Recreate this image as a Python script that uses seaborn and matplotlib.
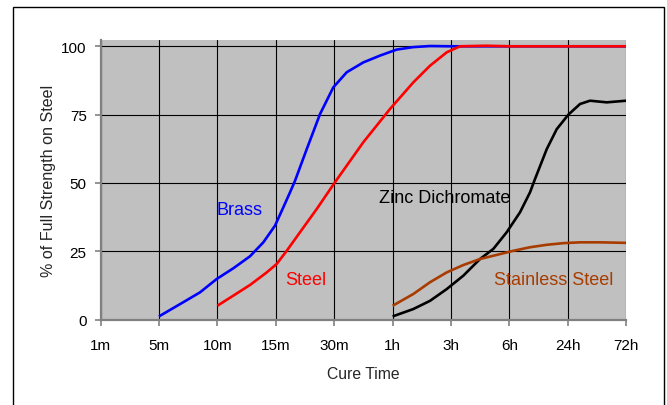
import matplotlib
matplotlib.use("Agg")
import matplotlib.pyplot as plt
import matplotlib.patches as mpatches
import seaborn as sns
import pandas as pd

# Category axis (equally spaced cure-time ticks)
tick_labels = ["1m", "5m", "10m", "15m", "30m", "1h", "3h", "6h", "24h", "72h"]

# Readings: position along the category axis (0 = 1m ... 9 = 72h) and % strength
brass_x = [1.0, 1.417, 1.703, 1.989, 2.273, 2.559, 2.787, 2.987, 3.129, 3.244, 3.329, 3.53, 3.757,
           3.985, 4.214, 4.498, 4.784, 5.07, 5.354, 5.64, 6.0, 7.0, 8.0, 9.0]
brass_y = [1.2, 6.4, 10.0, 14.9, 18.8, 23.2, 28.3, 34.4, 41.1, 46.6, 50.8, 62.4, 75.2,
           85.0, 90.5, 94.1, 96.6, 98.8, 99.7, 100.1, 100.0, 100.0, 100.0, 100.0]

steel_x = [2.0, 2.273, 2.559, 2.845, 3.016, 3.187, 3.415, 3.701, 4.014, 4.498, 4.956, 5.354,
           5.64, 5.926, 6.154, 6.6, 7.0, 8.0, 9.0]
steel_y = [5.1, 8.8, 12.7, 17.3, 20.4, 25.2, 32.0, 40.5, 50.3, 64.9, 77.1, 86.8,
           92.9, 97.8, 100.0, 100.2, 100.0, 100.0, 100.0]

zinc_x = [5.0, 5.354, 5.64, 5.926, 6.21, 6.496, 6.724, 6.953, 7.181, 7.352, 7.438, 7.638, 7.809,
          8.008, 8.208, 8.379, 8.665, 9.0]
zinc_y = [1.2, 3.9, 6.9, 11.2, 16.1, 22.2, 25.9, 32.0, 39.3, 46.6, 51.5, 62.4, 69.7,
          75.0, 78.9, 80.1, 79.5, 80.1]

stainless_x = [5.0, 5.354, 5.64, 5.926, 6.21, 6.496, 6.782, 7.066, 7.352, 7.638, 7.922, 8.208, 8.551, 9.0]
stainless_y = [5.1, 9.4, 13.7, 17.3, 20.0, 22.2, 23.7, 25.2, 26.5, 27.4, 28.0, 28.3, 28.3, 28.1]

series_names = ["Brass", "Steel", "Zinc Dichromate", "Stainless Steel"]
series_colors = ["#0000FF", "#FF0000", "#000000", "#A83C00"]

frames = []
for name, xs, ys in zip(series_names,
                        [brass_x, steel_x, zinc_x, stainless_x],
                        [brass_y, steel_y, zinc_y, stainless_y]):
    frames.append(pd.DataFrame({"pos": xs, "val": ys, "series": name}))
df = pd.concat(frames, ignore_index=True)

sns.set_style("white")
plt.rcParams["font.family"] = ["Liberation Sans", "DejaVu Sans"]

fig = plt.figure(figsize=(6.67, 4.06), dpi=100)
fig.patch.set_facecolor("white")
ax = fig.add_axes([0.1507, 0.2101, 0.939 - 0.1507, 0.899 - 0.2101])
ax.set_facecolor("#C0C0C0")

sns.lineplot(data=df, x="pos", y="val", hue="series", hue_order=series_names,
             palette=dict(zip(series_names, series_colors)), sort=False,
             estimator=None, linewidth=1.9, legend=False, ax=ax, zorder=3,
             solid_joinstyle="round", solid_capstyle="butt")

ax.set_xlim(0, 9)
ax.set_ylim(0, 102.3)
ax.set_xticks(range(len(tick_labels)))
ax.set_xticklabels(tick_labels)
ax.set_yticks([0, 25, 50, 75, 100])

ax.grid(True, color="black", linewidth=0.8, zorder=1)
ax.set_axisbelow(True)

for s in ["top", "right"]:
    ax.spines[s].set_visible(False)
for s in ["left", "bottom"]:
    ax.spines[s].set_color("#808080")
    ax.spines[s].set_linewidth(1.6)
    ax.spines[s].set_zorder(4)

ax.tick_params(axis="both", which="major", direction="out", length=4, width=1.2,
               color="#808080", labelsize=11, labelcolor="black",
               bottom=True, left=True)
ax.tick_params(axis="x", pad=9)
ax.tick_params(axis="y", pad=6)

ax.set_xlabel("Cure Time", fontsize=11.3, labelpad=10)
ax.set_ylabel("% of Full Strength on Steel", fontsize=11.6, labelpad=4)

# Series labels
label_pos = [(1.99, 38.7), (3.16, 13.0), (4.77, 42.9), (6.74, 13.0)]
for name, color, (tx, ty) in zip(series_names, series_colors, label_pos):
    ax.text(tx, ty, name, color=color, fontsize=13, ha="left", va="baseline", zorder=5)

# Outer figure frame
frame = mpatches.Rectangle((13.5 / 667, -0.05), (664 - 13.5) / 667, 0.05 + (406 - 7.5) / 406,
                           transform=fig.transFigure, fill=False, edgecolor="black",
                           linewidth=1.0)
fig.patches.append(frame)

fig.savefig("out.png", dpi=100)
